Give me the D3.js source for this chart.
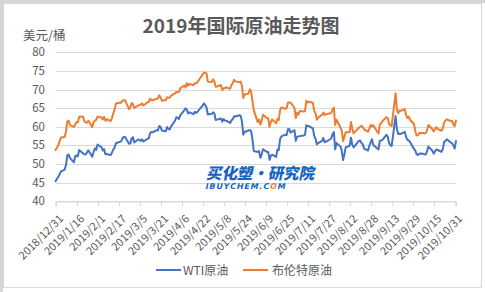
<!DOCTYPE html>
<html><head><meta charset="utf-8">
<script src="https://cdn.jsdelivr.net/npm/d3@7"></script>
<style>
html,body{margin:0;padding:0;background:#fff;}
svg{display:block;}
</style></head>
<body>
<svg id="c" width="485" height="292"></svg>
<script>
const dates = ["2018-12-31","2019-01-02","2019-01-03","2019-01-04","2019-01-07","2019-01-08","2019-01-09","2019-01-10","2019-01-11","2019-01-14","2019-01-15","2019-01-16","2019-01-17","2019-01-18","2019-01-21","2019-01-22","2019-01-23","2019-01-24","2019-01-25","2019-01-28","2019-01-29","2019-01-30","2019-01-31",
"2019-02-01","2019-02-04","2019-02-05","2019-02-06","2019-02-07","2019-02-08","2019-02-11","2019-02-12","2019-02-13","2019-02-14","2019-02-15","2019-02-18","2019-02-19","2019-02-20","2019-02-21","2019-02-22","2019-02-25","2019-02-26","2019-02-27","2019-02-28",
"2019-03-01","2019-03-04","2019-03-05","2019-03-06","2019-03-07","2019-03-08","2019-03-11","2019-03-12","2019-03-13","2019-03-14","2019-03-15","2019-03-18","2019-03-19","2019-03-20","2019-03-21","2019-03-22","2019-03-25","2019-03-26","2019-03-27","2019-03-28","2019-03-29",
"2019-04-01","2019-04-02","2019-04-03","2019-04-04","2019-04-05","2019-04-08","2019-04-09","2019-04-10","2019-04-11","2019-04-12","2019-04-15","2019-04-16","2019-04-17","2019-04-18","2019-04-22","2019-04-23","2019-04-24","2019-04-25","2019-04-26","2019-04-29","2019-04-30",
"2019-05-01","2019-05-02","2019-05-03","2019-05-06","2019-05-07","2019-05-08","2019-05-09","2019-05-10","2019-05-13","2019-05-14","2019-05-15","2019-05-16","2019-05-17","2019-05-20","2019-05-21","2019-05-22","2019-05-23","2019-05-24","2019-05-27","2019-05-28","2019-05-29","2019-05-30","2019-05-31",
"2019-06-03","2019-06-04","2019-06-05","2019-06-06","2019-06-07","2019-06-10","2019-06-11","2019-06-12","2019-06-13","2019-06-14","2019-06-17","2019-06-18","2019-06-19","2019-06-20","2019-06-21","2019-06-24","2019-06-25","2019-06-26","2019-06-27","2019-06-28",
"2019-07-01","2019-07-02","2019-07-03","2019-07-04","2019-07-05","2019-07-08","2019-07-09","2019-07-10","2019-07-11","2019-07-12","2019-07-15","2019-07-16","2019-07-17","2019-07-18","2019-07-19","2019-07-22","2019-07-23","2019-07-24","2019-07-25","2019-07-26","2019-07-29","2019-07-30","2019-07-31",
"2019-08-01","2019-08-02","2019-08-05","2019-08-06","2019-08-07","2019-08-08","2019-08-09","2019-08-12","2019-08-13","2019-08-14","2019-08-15","2019-08-16","2019-08-19","2019-08-20","2019-08-21","2019-08-22","2019-08-23","2019-08-26","2019-08-27","2019-08-28","2019-08-29","2019-08-30",
"2019-09-02","2019-09-03","2019-09-04","2019-09-05","2019-09-06","2019-09-09","2019-09-10","2019-09-11","2019-09-12","2019-09-13","2019-09-16","2019-09-17","2019-09-18","2019-09-19","2019-09-20","2019-09-23","2019-09-24","2019-09-25","2019-09-26","2019-09-27","2019-09-30",
"2019-10-01","2019-10-02","2019-10-03","2019-10-04","2019-10-07","2019-10-08","2019-10-09","2019-10-10","2019-10-11","2019-10-14","2019-10-15","2019-10-16","2019-10-17","2019-10-18","2019-10-21","2019-10-22","2019-10-23","2019-10-24","2019-10-25","2019-10-28","2019-10-29","2019-10-30","2019-10-31","2019-11-01"];

const wti = [45.41,46.54,47.09,47.96,48.52,49.78,52.36,52.59,51.59,50.51,52.11,52.31,52.07,53.80,null,52.57,52.62,53.13,53.69,51.99,53.31,54.23,53.79,
55.26,54.56,53.66,54.01,52.64,52.72,52.41,53.10,53.90,54.41,55.59,null,56.09,56.92,57.26,57.26,55.48,55.50,56.94,57.22,
55.80,56.59,56.56,56.22,56.66,56.07,56.79,56.87,58.26,58.61,58.52,59.09,59.03,60.23,59.98,59.04,58.82,59.94,59.41,59.30,60.14,
61.59,62.58,62.46,62.10,63.08,64.40,64.98,64.61,63.58,63.89,63.40,64.05,63.76,64.00,65.70,66.30,65.89,65.21,63.30,63.50,63.91,
63.60,61.81,61.94,62.25,61.40,62.12,61.70,61.66,61.04,61.78,62.02,62.87,62.76,63.10,62.99,61.42,57.91,58.63,null,59.14,58.81,56.59,53.50,
53.25,53.48,51.68,52.59,53.99,53.26,53.27,51.14,52.28,52.51,51.93,53.90,53.76,56.65,57.43,57.90,57.83,59.38,59.43,58.47,
59.09,56.25,57.34,null,57.51,57.66,57.83,60.43,60.20,60.21,59.58,57.62,56.78,55.30,55.63,56.22,57.01,55.88,56.02,56.20,56.87,58.05,58.58,
53.95,55.66,54.69,53.63,51.09,52.54,54.50,54.93,57.10,55.23,54.47,54.87,56.21,56.34,55.68,55.35,54.17,53.64,54.93,55.78,56.71,55.10,
null,53.94,56.26,56.30,56.52,57.85,57.40,55.75,55.09,54.85,62.90,59.34,58.11,58.13,58.09,58.64,57.29,56.49,56.41,55.91,54.07,
53.62,52.64,52.45,52.81,52.75,52.63,52.59,53.55,54.70,53.59,52.81,53.36,53.93,53.78,53.31,54.16,55.97,56.23,56.66,55.81,55.54,55.06,54.18,56.20];

const brent = [53.80,54.91,55.95,57.06,57.33,58.72,61.44,61.68,60.48,59.99,60.64,61.32,61.18,62.70,62.74,61.50,61.14,61.09,61.64,59.93,61.32,61.65,61.89,
62.75,62.51,61.98,62.69,61.63,62.10,61.51,62.42,63.61,64.57,66.25,66.50,66.45,67.08,67.07,67.12,64.76,65.21,66.39,66.03,
65.07,65.67,65.86,65.99,66.30,65.74,66.58,66.67,67.55,67.23,67.16,67.54,67.61,68.50,67.86,67.03,67.21,67.97,67.83,67.82,68.39,
69.01,69.37,69.31,69.40,70.34,71.10,70.61,71.73,71.02,71.55,71.18,71.72,71.62,71.97,74.04,74.51,74.57,74.35,72.15,72.04,72.80,
72.18,70.75,70.85,71.24,69.88,70.37,70.39,70.62,70.23,71.24,71.77,72.62,72.21,71.97,72.18,70.99,67.76,68.69,68.97,70.11,69.45,66.87,64.49,
61.28,61.97,60.63,61.67,63.29,62.29,62.29,59.97,61.31,62.01,60.94,62.14,61.82,64.45,65.20,64.86,65.05,66.49,66.55,66.55,
65.06,62.40,63.82,63.30,64.23,64.11,64.16,67.01,66.52,66.72,66.48,64.35,63.66,61.93,62.47,63.26,63.83,63.18,63.39,63.46,63.71,64.72,65.17,
60.50,61.89,59.81,58.94,56.23,57.38,58.53,58.57,61.30,59.48,58.23,58.64,59.74,60.03,60.30,59.92,59.34,58.70,59.51,60.49,60.08,60.43,
58.66,58.26,60.70,60.95,61.54,62.59,62.38,60.81,60.38,60.22,69.02,64.55,63.60,64.40,64.28,64.77,63.10,62.39,62.74,61.91,60.78,
58.89,57.69,57.71,58.37,58.35,58.24,58.32,59.10,60.51,59.35,58.74,59.42,59.91,59.42,58.96,59.70,61.17,61.67,62.02,61.57,61.59,60.61,60.23,61.69];

const tickLabels = ["2018/12/31","2019/1/16","2019/2/1","2019/2/17","2019/3/5","2019/3/21","2019/4/6","2019/4/22","2019/5/8","2019/5/24","2019/6/9","2019/6/25","2019/7/11","2019/7/27","2019/8/12","2019/8/28","2019/9/13","2019/9/29","2019/10/15","2019/10/31"];
const yTicks = [40,45,50,55,60,65,70,75,80];
const seriesNames = ["WTI原油","布伦特原油"];
const colors = ["#4472C4","#ED7D31"];

const svg = d3.select("#c");
const FONT = "'Noto Sans CJK SC','Microsoft YaHei',sans-serif";
const txt = "#595959";

// outer frame
svg.append("rect").attr("x",0).attr("y",0).attr("width",485).attr("height",292).attr("fill","#fff");
svg.append("rect").attr("x",0).attr("y",0).attr("width",485).attr("height",3).attr("fill","#d6d6d6");
svg.append("rect").attr("x",0).attr("y",0).attr("width",3).attr("height",292).attr("fill","#d6d6d6");
svg.append("rect").attr("x",3.5).attr("y",3.5).attr("width",478).attr("height",284).attr("fill","#fff").attr("stroke","#d9d9d9");

const parse = d3.timeParse("%Y-%m-%d");
const tparse = d3.timeParse("%Y/%m/%d");
const D = dates.map(parse);
const x = d3.scaleTime().domain([parse("2018-12-31"), parse("2019-11-01")]).range([55.5, 456]);
const y = d3.scaleLinear().domain([40,80]).range([201.3, 52.4]);

// gridlines
svg.append("g").selectAll("line").data(yTicks).join("line")
  .attr("x1",55.5).attr("x2",456)
  .attr("y1",d=>Math.round(y(d))+0.5).attr("y2",d=>Math.round(y(d))+0.5)
  .attr("stroke","#d9d9d9").attr("stroke-width",1);

// y labels
svg.append("g").selectAll("text").data(yTicks).join("text")
  .attr("x",45).attr("y",d=>y(d)+4)
  .attr("text-anchor","end").attr("font-family",FONT).attr("font-size",11.5).attr("fill",txt)
  .text(d=>d);

// x axis ticks
const tickDates = tickLabels.map(tparse);
const xAxis = d3.axisBottom(x).tickValues(tickDates).tickSize(5).tickFormat((d,i)=>tickLabels[i]);
const gx = svg.append("g").attr("transform",`translate(0,${Math.round(y(40))+0.5})`).call(xAxis);
gx.select(".domain").attr("stroke","#d9d9d9");
gx.selectAll(".tick line").attr("stroke","#d9d9d9").attr("transform","translate(0.5,0)");
gx.selectAll(".tick text")
  .attr("font-family",FONT).attr("font-size",11).attr("fill",txt)
  .attr("text-anchor","end").attr("dy",0).attr("y",0)
  .attr("transform","translate(8,18) rotate(-45)");

// lines
const mk = vals => D.map((d,i)=>({d, v: vals[i]})).filter(p=>p.v!=null);
const line = d3.line().x(p=>x(p.d)).y(p=>y(p.v));
[wti, brent].forEach((vals,i)=>{
  svg.append("path").datum(mk(vals)).attr("d",line)
    .attr("fill","none").attr("stroke",colors[i]).attr("stroke-width",2)
    .attr("stroke-linejoin","round").attr("stroke-linecap","round");
});

// watermark
const wm = svg.append("g").attr("transform","translate(206,179) skewX(-12)");
wm.append("text").attr("x",0).attr("y",0).attr("font-family",FONT).attr("font-weight",900)
  .attr("font-size",15.5).attr("fill","#1565c0").attr("textLength",108).text("买化塑·研究院");
const wm2 = svg.append("g").attr("transform","translate(205,189) skewX(-12)");
const t2 = wm2.append("text").attr("x",0).attr("y",0).attr("font-family","'DejaVu Sans',sans-serif").attr("font-weight","bold")
  .attr("font-size",8).attr("fill","#1565c0").attr("textLength",80);
t2.append("tspan").text("IBUYCHEM.C");
t2.append("tspan").attr("fill","#ED7D31").text("O");
t2.append("tspan").text("M");

// title
svg.append("text").attr("x",241).attr("y",33).attr("text-anchor","middle")
  .attr("font-family",FONT).attr("font-weight","bold").attr("font-size",19).attr("fill",txt)
  .text("2019年国际原油走势图");

// y unit
svg.append("text").attr("x",23).attr("y",40).attr("font-family",FONT).attr("font-size",12.5).attr("fill",txt).text("美元/桶");

// legend
const lg = [{x:156, tx:183},{x:243, tx:272}];
lg.forEach((l,i)=>{
  svg.append("line").attr("x1",l.x).attr("x2",l.x+25).attr("y1",270).attr("y2",270)
    .attr("stroke",colors[i]).attr("stroke-width",2);
  svg.append("text").attr("x",l.tx).attr("y",274.5).attr("font-family",FONT).attr("font-size",12).attr("fill",txt).text(seriesNames[i]);
});
</script>
</body></html>
